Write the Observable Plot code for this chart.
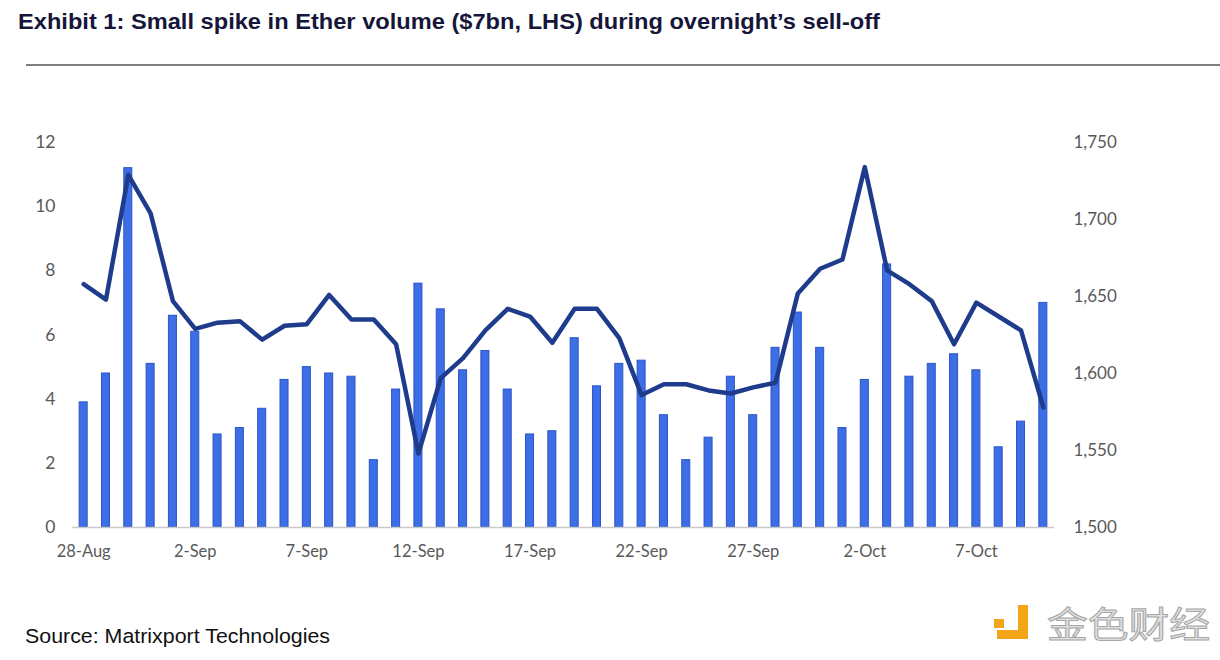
<!DOCTYPE html>
<html><head><meta charset="utf-8">
<script src="https://cdn.jsdelivr.net/npm/d3@7"></script>
<script src="https://cdn.jsdelivr.net/npm/@observablehq/plot@0.6"></script>
<style>
body{margin:0;background:#fff;width:1220px;height:660px;position:relative;overflow:hidden;font-family:"Liberation Sans",Arial,sans-serif}
#title{position:absolute;left:18px;top:9px;font-weight:bold;font-size:22px;color:#16163a;white-space:nowrap;transform-origin:0 0}
#rule{position:absolute;left:26px;top:64px;width:1194px;height:2px;background:#7f7f7f}
#chart{position:absolute;left:0;top:80px}
#source{position:absolute;left:25px;top:624px;font-size:20.5px;color:#111;white-space:nowrap;transform-origin:0 0}
#logo{position:absolute;left:990px;top:600px}
#logotext{position:absolute;left:1047px;top:604px;font-family:"Noto Sans CJK SC",sans-serif;font-size:36px;line-height:36px;font-weight:400;color:#e0e0e0;-webkit-text-stroke:1px #a6a6a6;white-space:nowrap;transform-origin:0 0}
</style></head>
<body>
<div id="title">Exhibit 1: Small spike in Ether volume ($7bn, LHS) during overnight’s sell-off</div>
<div id="rule"></div>
<div id="chart"></div>
<div id="source">Source: Matrixport Technologies</div>
<svg id="logo" width="50" height="50">
  <rect x="4" y="19" width="10" height="9" fill="#f2a516"/>
  <rect x="28" y="5" width="10" height="34" fill="#f2a516"/>
  <rect x="7" y="30" width="31" height="9" fill="#f2a516"/>
</svg>
<div id="logotext">金色财经</div>
<script>
const dates = ["28-Aug","29-Aug","30-Aug","31-Aug","1-Sep","2-Sep","3-Sep","4-Sep","5-Sep","6-Sep","7-Sep","8-Sep","9-Sep","10-Sep","11-Sep","12-Sep","13-Sep","14-Sep","15-Sep","16-Sep","17-Sep","18-Sep","19-Sep","20-Sep","21-Sep","22-Sep","23-Sep","24-Sep","25-Sep","26-Sep","27-Sep","28-Sep","29-Sep","30-Sep","1-Oct","2-Oct","3-Oct","4-Oct","5-Oct","6-Oct","7-Oct","8-Oct","9-Oct","10-Oct"];
const volume = [3.9,4.8,11.2,5.1,6.6,6.1,2.9,3.1,3.7,4.6,5.0,4.8,4.7,2.1,4.3,7.6,6.8,4.9,5.5,4.3,2.9,3.0,5.9,4.4,5.1,5.2,3.5,2.1,2.8,4.7,3.5,5.6,6.7,5.6,3.1,4.6,8.2,4.7,5.1,5.4,4.9,2.5,3.3,7.0];
const price = [1658,1648,1729,1704,1647,1629,1633,1634,1622,1631,1632,1651,1635,1635,1619,1548,1597,1610,1628,1642,1637,1620,1642,1642,1623,1586,1593,1593,1589,1587,1591,1594,1652,1668,1674,1734,1667,1658,1647,1619,1646,1637,1628,1578];
const xTickLabels = ["28-Aug","2-Sep","7-Sep","12-Sep","17-Sep","22-Sep","27-Sep","2-Oct","7-Oct"];
const leftTicks = [0,2,4,6,8,10,12];
const rightTicks = [1500,1550,1600,1650,1700,1750];

const leftMax = 12, rMin = 1500, rMax = 1750;
const toLeft = p => (p - rMin) / (rMax - rMin) * leftMax;
const fromLeft = v => v / leftMax * (rMax - rMin) + rMin;
const rows = dates.map((d, i) => ({date: d, volume: volume[i], price: toLeft(price[i])}));

const chart = Plot.plot({
  width: 1220, height: 480,
  marginLeft: 72, marginRight: 166, marginTop: 62, marginBottom: 33,
  style: {fontFamily: "Lato, sans-serif", fontSize: "17px", color: "#595959", background: "transparent", overflow: "visible"},
  x: {type: "band", domain: dates, paddingInner: 0.64, paddingOuter: 0.32, round: false, axis: null, label: null},
  y: {domain: [0, 12], axis: null, label: null},
  marks: [
    Plot.barY(rows, {x: "date", y: "volume", fill: "#3d6ee6", stroke: "#2b56c6", strokeWidth: 1}),
    Plot.ruleY([0], {stroke: "#c9c9c9", strokeWidth: 1.5}),
    Plot.line(rows, {x: "date", y: "price", stroke: "#1f3c8c", strokeWidth: 4.5, strokeLinejoin: "round", strokeLinecap: "round"}),
    Plot.axisY(leftTicks, {anchor: "left", tickSize: 0, tickPadding: 17, label: null, fill: "#595959", fontSize: 17.5}),
    Plot.axisY(rightTicks.map(toLeft), {anchor: "right", tickSize: 0, tickPadding: 19, label: null, fill: "#595959", fontSize: 17,
      tickFormat: d => d3.format(",")(Math.round(fromLeft(d)))}),
    Plot.axisX(xTickLabels, {tickSize: 0, tickPadding: 18, label: null, fill: "#595959", fontSize: 16.5})
  ]
});
document.getElementById("chart").appendChild(chart);

function fit(id, target) {
  const el = document.getElementById(id);
  const w = el.getBoundingClientRect().width;
  el.style.transform = `scaleX(${target / w})`;
}
fit("title", 862);
fit("source", 305);
fit("logotext", 163);
</script>
</body></html>
